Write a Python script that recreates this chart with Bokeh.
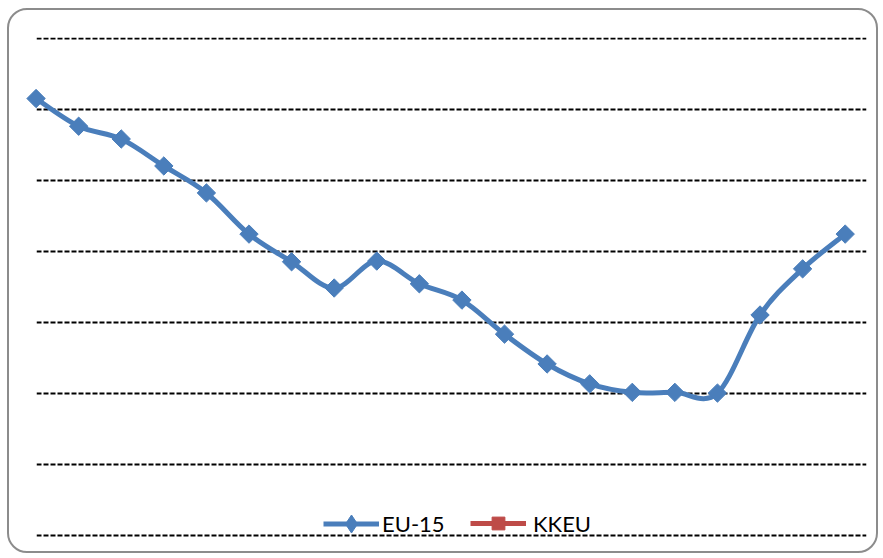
import numpy as np
from bokeh.plotting import figure
from bokeh.models import Range1d, Grid, FixedTicker, Legend, LegendItem, ColumnDataSource
from bokeh.embed import file_html
from bokeh.resources import INLINE

# ---- data ----
series_names = ["EU-15", "KKEU"]
eu15 = [6.15, 5.76, 5.58, 5.20, 4.82, 4.24, 3.85, 3.48, 3.86, 3.54,
        3.31, 2.83, 2.41, 2.13, 2.01, 2.01, 2.00, 3.10, 3.75, 4.24]
kkeu = [None] * len(eu15)          # no values shown for KKEU
grid_values = [0, 1, 2, 3, 4, 5, 6, 7]

BLUE = "#4a7ebb"
RED = "#be4b48"

x = np.arange(len(eu15), dtype=float)
y = np.array(eu15, dtype=float)
yk = np.array([np.nan if v is None else v for v in kkeu], dtype=float)

# smoothed line (Catmull-Rom style Bezier through the data points)
xp = np.concatenate([[x[0]], x, [x[-1]]])
yp = np.concatenate([[y[0]], y, [y[-1]]])
n = len(x)
seg = dict(
    x0=x[:-1], y0=y[:-1], x1=x[1:], y1=y[1:],
    cx0=x[:-1] + (xp[2:n + 1] - xp[0:n - 1]) / 6.0,
    cy0=y[:-1] + (yp[2:n + 1] - yp[0:n - 1]) / 6.0,
    cx1=x[1:] - (xp[3:n + 2] - xp[1:n]) / 6.0,
    cy1=y[1:] - (yp[3:n + 2] - yp[1:n]) / 6.0,
)

p = figure(width=871, height=545, output_backend="svg", toolbar_location=None,
           x_axis_location=None, y_axis_location=None,
           x_range=Range1d(0.01, len(eu15) - 0.5),
           y_range=Range1d(grid_values[0] - 0.19, grid_values[-1] + 0.01),
           min_border_left=27, min_border_right=14, min_border_top=27, min_border_bottom=7)
p.grid.visible = False
p.outline_line_color = None
p.background_fill_color = None
p.border_fill_color = None
p.styles = {"margin-left": "7px", "margin-top": "8px",
            "border": "2px solid #8c8c8c", "border-radius": "20px", "overflow": "hidden"}

grid = Grid(dimension=1, ticker=FixedTicker(ticks=grid_values),
            grid_line_color="black", grid_line_width=1.8, grid_line_dash="5 2")
p.add_layout(grid, "center")

r_line = p.bezier(source=ColumnDataSource(seg), x0="x0", y0="y0", x1="x1", y1="y1",
                  cx0="cx0", cy0="cy0", cx1="cx1", cy1="cy1",
                  line_color=BLUE, line_width=5, level="overlay")
r_pts = p.scatter(x, y, marker="square", angle=np.pi / 4, size=13,
                  fill_color=BLUE, line_color=BLUE, level="overlay")
# legend-style marker for EU-15 (not drawn in the plot itself)
r_leg = p.scatter(x, y, marker="diamond", size=18, fill_color=BLUE, line_color=BLUE,
                  visible=False)

r_k_line = p.line(x, yk, line_color=RED, line_width=5)
r_k_pts = p.scatter(x, yk, marker="square", size=13, fill_color=RED, line_color=RED)

common = dict(orientation="horizontal", glyph_width=56, padding=0, margin=0,
              border_line_color=None, background_fill_alpha=0,
              label_text_font="Lato", label_text_font_size="22px",
              label_text_color="black")
leg1 = Legend(items=[LegendItem(label=series_names[0], renderers=[r_line, r_leg])],
              location=(287, 2.5), glyph_height=45, label_standoff=3, **common)
leg2 = Legend(items=[LegendItem(label=series_names[1], renderers=[r_k_line, r_k_pts])],
              location=(434, 9), glyph_height=32, label_standoff=7, **common)
p.add_layout(leg1, "center")
p.add_layout(leg2, "center")

open("out.html", "w").write(file_html(p, INLINE))
